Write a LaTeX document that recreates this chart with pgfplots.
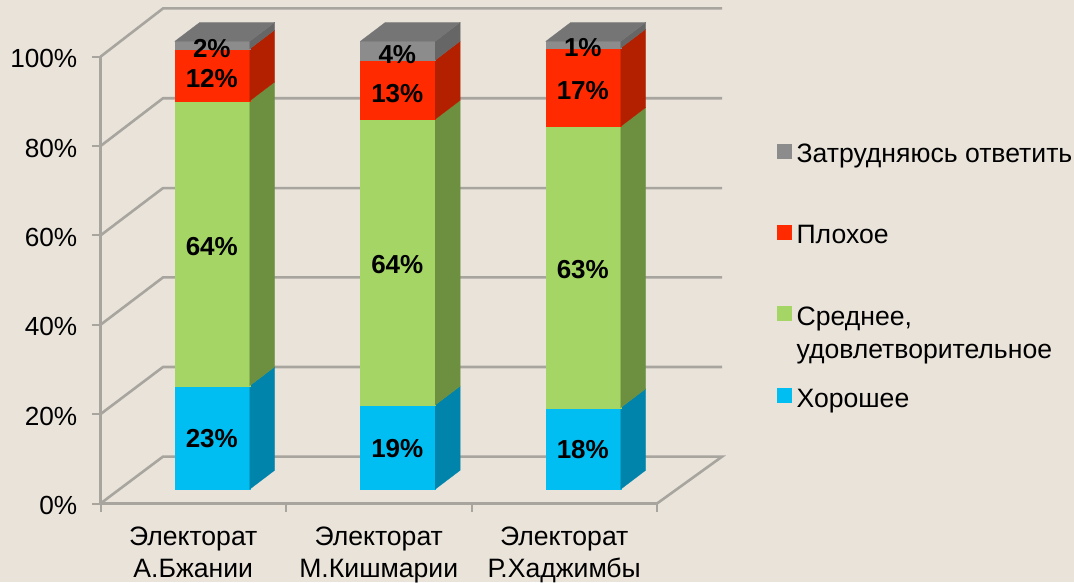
\documentclass[border=0pt]{standalone}
\usepackage{fontspec}
\setmainfont{Liberation Sans}
\usepackage{pgfplots}
\pgfplotsset{compat=1.18}
\definecolor{bgc}{HTML}{E9E3DA}
\definecolor{gridc}{HTML}{A8A59F}
\definecolor{blueF}{HTML}{00BEF2}
\definecolor{blueS}{HTML}{0084AB}
\definecolor{greenF}{HTML}{A4D565}
\definecolor{greenS}{HTML}{6C9040}
\definecolor{redF}{HTML}{FF2A00}
\definecolor{redS}{HTML}{B32000}
\definecolor{grayF}{HTML}{8C8C8C}
\definecolor{grayS}{HTML}{666666}
\definecolor{grayT}{HTML}{757575}
% one stacked segment: left x, low %, high %, front colour, side colour
\newcommand\seg[5]{%
  \pgfmathsetmacro\xa{#1}\pgfmathsetmacro\xb{#1+0.404}\pgfmathsetmacro\xc{#1+0.539}%
  \pgfmathsetmacro\ya{3.18+1.0025*#2}\pgfmathsetmacro\yb{3.18+1.0025*#3}%
  \pgfmathsetmacro\yc{\ya+4.25}\pgfmathsetmacro\yd{\yb+4.25}%
  \addplot[forget plot,fill=#4,draw=#4,line width=.2pt] coordinates {(\xa,\ya) (\xb,\ya) (\xb,\yb) (\xa,\yb)} -- cycle;
  \addplot[forget plot,fill=#5,draw=#5,line width=.2pt] coordinates {(\xb,\ya) (\xc,\yc) (\xc,\yd) (\xb,\yb)} -- cycle;
}
\newcommand\lid[1]{%
  \pgfmathsetmacro\xa{#1}\pgfmathsetmacro\xb{#1+0.404}\pgfmathsetmacro\xc{#1+0.539}\pgfmathsetmacro\xd{#1+0.135}%
  \addplot[forget plot,fill=grayT,draw=grayT,line width=.2pt] coordinates {(\xa,103.43) (\xb,103.43) (\xc,107.68) (\xd,107.68)} -- cycle;
}
\newcommand\lab[3]{\node[font=\fontsize{26}{30}\selectfont\bfseries,inner sep=0pt,yshift=-1pt] at (axis cs:#1,#2) {#3\%};}
\begin{document}
\begin{tikzpicture}[x=1pt,y=1pt]
  \fill[bgc] (0,0) rectangle (1074,582);
  \path[use as bounding box] (0,0) rectangle (1074,582);
  \begin{axis}[
    at={(100.5pt,78.5pt)},
    anchor=south west,
    x=185.5pt, y=4.468pt,
    xmin=0, xmax=3.4, ymin=0, ymax=112,
    clip=false,
    axis lines=left,
    axis line style={draw=none,-},
    ytick={0,20,40,60,80,100},
    yticklabels={0\%,20\%,40\%,60\%,80\%,100\%},
    xtick={0.5,1.5,2.5},
    xticklabels={Электорат\\А.Бжании,Электорат\\М.Кишмарии,Электорат\\Р.Хаджимбы},
    minor xtick={0,1,2,3},
    tick align=outside,
    major tick length=8pt,
    minor tick length=8pt,
    major x tick style={draw=none},
    minor x tick style={draw=gridc,line width=2pt},
    major y tick style={draw=gridc,line width=2pt},
    yticklabel style={font=\fontsize{26.2}{30}\selectfont,inner sep=0pt,xshift=-15pt,yshift=-2pt},
    xticklabel style={font=\fontsize{26.6}{32.5}\selectfont,align=center,inner sep=0pt,yshift=-15pt},
    legend cell align=left,
    legend style={at={(1.0726,0.719)},anchor=north west,draw=none,fill=none,inner sep=0pt,
      row sep=61pt,column sep=5pt,nodes={inner sep=0pt},font=\fontsize{26.6}{33}\selectfont},
  ]
    % wall and floor lines
    \addplot[forget plot,gridc,line width=2.6pt] coordinates {(0,100) (0.337,110.8) (3.351,110.8)};
    \addplot[forget plot,gridc,line width=2.6pt] coordinates {(0,80) (0.337,90.7) (3.351,90.7)};
    \addplot[forget plot,gridc,line width=2.6pt] coordinates {(0,60) (0.337,70.6) (3.351,70.6)};
    \addplot[forget plot,gridc,line width=2.6pt] coordinates {(0,40) (0.337,50.6) (3.351,50.6)};
    \addplot[forget plot,gridc,line width=2.6pt] coordinates {(0,20) (0.337,30.55) (3.351,30.55)};
    \addplot[forget plot,gridc,line width=2.6pt] coordinates {(0,0) (0.337,10.5) (3.351,10.5) (3,0) (0,0) (0,100)};
    % bars
    \seg{0.4}{0}{23.1}{blueF}{blueS}
    \seg{0.4}{23.1}{86.7}{greenF}{greenS}
    \seg{0.4}{86.7}{98.3}{redF}{redS}
    \seg{0.4}{98.3}{100}{grayF}{grayS}
    \lid{0.4}
    \seg{1.4}{0}{18.8}{blueF}{blueS}
    \seg{1.4}{18.8}{82.6}{greenF}{greenS}
    \seg{1.4}{82.6}{95.8}{redF}{redS}
    \seg{1.4}{95.8}{100}{grayF}{grayS}
    \lid{1.4}
    \seg{2.4}{0}{18.2}{blueF}{blueS}
    \seg{2.4}{18.2}{81.0}{greenF}{greenS}
    \seg{2.4}{81.0}{98.5}{redF}{redS}
    \seg{2.4}{98.5}{100}{grayF}{grayS}
    \lid{2.4}
    % value labels
    \lab{0.6}{101.95}{2}\lab{0.6}{95.23}{12}\lab{0.6}{57.63}{64}\lab{0.6}{14.66}{23}
    \lab{1.6}{100.6}{4}\lab{1.6}{91.88}{13}\lab{1.6}{53.6}{64}\lab{1.6}{12.42}{19}
    \lab{2.6}{102.17}{1}\lab{2.6}{92.55}{17}\lab{2.6}{52.48}{63}\lab{2.6}{12.2}{18}
    % legend
    \addlegendimage{legend image code/.code={\fill[grayF] (0pt,-4pt) rectangle (14pt,10pt);}}
    \addlegendentry{Затрудняюсь ответить}
    \addlegendimage{legend image code/.code={\fill[redF] (0pt,-4pt) rectangle (14pt,10pt);}}
    \addlegendentry{Плохое}
    \addlegendimage{legend image code/.code={\fill[greenF] (0pt,-4pt) rectangle (14pt,10pt);}}
    \addlegendentry{\rule{0pt}{19pt}\smash{\begin{tabular}[t]{@{}l@{}}Среднее,\\удовлетворительное\end{tabular}}}
    \addlegendimage{legend image code/.code={\fill[blueF] (0pt,-1pt) rectangle (14pt,13pt);}}
    \addlegendentry{\raisebox{3pt}{Хорошее}}
  \end{axis}
\end{tikzpicture}
\end{document}
